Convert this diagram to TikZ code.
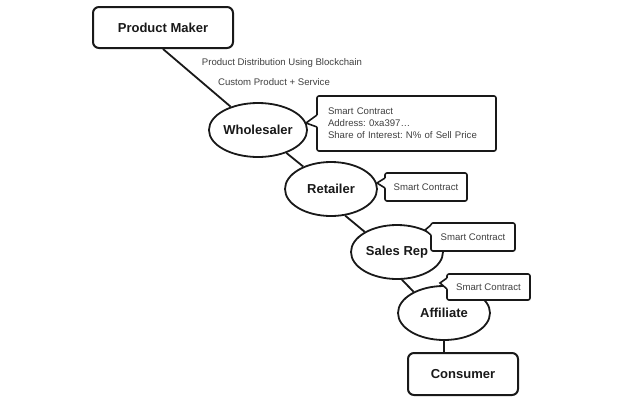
\documentclass[tikz,border=0pt]{standalone}
\usepackage{fontspec}
\setmainfont{Liberation Sans}
\frenchspacing
\usetikzlibrary{shapes.geometric,calc}
\newcommand{\callptr}[4]{%
  \fill[white] ($(#1.north west)+(1.4,#2)$) -- ($(#1.north west)+(0,#2)$) -- (#4) -- ($(#1.north west)+(0,#3)$) -- ($(#1.north west)+(1.4,#3)$) -- cycle;
  \draw[ptrline] ($(#1.north west)+(0,#2)$) -- (#4) -- ($(#1.north west)+(0,#3)$);
}
\begin{document}
\begin{tikzpicture}[x=1pt,y=-1pt,
  mainbox/.style={draw=black!90, line width=2pt, rounded corners=6pt, font=\fontsize{13}{15}\selectfont\bfseries, text=black!90, inner sep=0pt},
  actor/.style={draw=black!90, ellipse, line width=1.8pt, minimum width=92pt, minimum height=54pt, inner sep=0pt, font=\fontsize{13}{15}\selectfont\bfseries, text=black!90},
  callbox/.style={draw=black!90, fill=white, line width=1.6pt, rounded corners=2pt, inner sep=0pt, outer sep=0pt, font=\fontsize{9.6}{12}\selectfont, text=black!75},
  ptrline/.style={draw=black!90, line width=1.6pt, line join=miter},
  link/.style={draw=black!90, line width=1.8pt},
  lbl/.style={font=\fontsize{9.6}{12}\selectfont, text=black!75, inner sep=0pt}
]
\useasboundingbox[fill=white] (0,0) rectangle (640,405);

\node[mainbox, minimum width=140pt, minimum height=41pt] (pm) at (163,27.5) {Product Maker};
\node[actor] (ws) at (258,130) {Wholesaler};
\node[actor] (rt) at (331,189) {Retailer};
\node[actor] (sr) at (397,252) {Sales Rep};
\node[actor] (af) at (444,313) {Affiliate};
\node[mainbox, minimum width=110pt, minimum height=42pt] (cs) at (463,374) {Consumer};

\draw[link] (pm.south) -- (ws);
\draw[link] (ws) -- (rt);
\draw[link] (rt.-62) -- (sr.148);
\draw[link] (sr.-80) -- (af.145);
\draw[link] (af.south) -- (af.south |- cs.north);

\node[lbl] (l1) at (282,63) {Product Distribution Using Blockchain};
\node[lbl] (l2) at (274,82) {Custom Product + Service};

\node[callbox, minimum width=179pt, minimum height=55pt, text width=157pt, inner xsep=11pt, align=left] (c1) at (406.5,123.5)
  {Smart Contract\\Address: 0xa397…\\Share of Interest: N\% of Sell Price};
\node[callbox, minimum width=82pt, minimum height=28pt] (c2) at (426,187) {Smart Contract};
\node[callbox, minimum width=84pt, minimum height=28pt] (c3) at (473,237) {Smart Contract};
\node[callbox, minimum width=83pt, minimum height=26pt] (c4) at (488.5,287) {Smart Contract};

\coordinate (t1) at (306,123);
\coordinate (t2) at (377,183);
\coordinate (t3) at (425,230);
\coordinate (t4) at (440,283);

\callptr{c1}{19}{31}{t1}
\callptr{c2}{5}{15}{t2}
\callptr{c3}{2}{12}{t3}
\callptr{c4}{4}{15}{t4}
\end{tikzpicture}
\end{document}
